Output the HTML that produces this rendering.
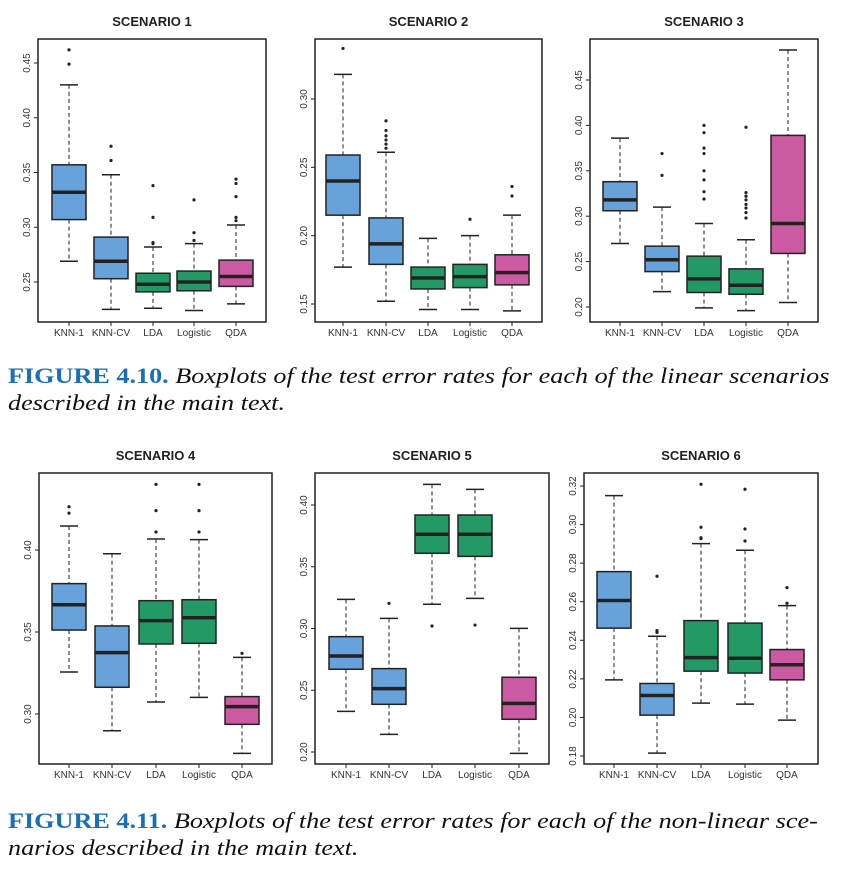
<!DOCTYPE html>
<html><head><meta charset="utf-8"><style>
body{margin:0;background:#fff;width:841px;height:889px;overflow:hidden;position:relative;font-family:"Liberation Sans",sans-serif}
.cap{position:absolute;left:8px;font-family:"Liberation Serif",serif;font-size:22px;font-style:italic;color:#111;line-height:27px;white-space:nowrap;transform:scaleX(1.19);transform-origin:0 0}
.cap b{font-style:normal;color:#1a6fb8;font-weight:bold}
</style></head><body>
<svg id="svg" width="841" height="889" style="position:absolute;left:0;top:0"></svg>
<div class="cap" style="top:362px"><b>FIGURE 4.10.</b> Boxplots of the test error rates for each of the linear scenarios<br>described in the main text.</div>
<div class="cap" style="top:807px"><b>FIGURE 4.11.</b> Boxplots of the test error rates for each of the non-linear sce-<br>narios described in the main text.</div>
<script>
const categories=["KNN-1","KNN-CV","LDA","Logistic","QDA"];
const colors=["#67a3da","#67a3da","#239966","#239966","#cc5aa3"];
// each: [lo, q1, med, q3, hi]
const s1Stats=[[.269,.307,.332,.357,.430],[.225,.253,.269,.291,.348],[.226,.241,.248,.258,.282],[.224,.242,.250,.260,.285],[.230,.246,.255,.270,.302]];
const s1Out=[[.449,.462],[.361,.374],[.285,.286,.309,.338],[.288,.295,.325],[.306,.309,.328,.340,.344]];
const s2Stats=[[.177,.215,.240,.259,.318],[.152,.179,.194,.213,.261],[.146,.161,.169,.177,.198],[.146,.162,.170,.179,.200],[.145,.164,.173,.186,.215]];
const s2Out=[[.337],[.264,.267,.270,.273,.277,.284],[],[.212],[.229,.236]];
const s3Stats=[[.270,.306,.318,.338,.386],[.217,.239,.252,.267,.310],[.199,.216,.231,.256,.292],[.196,.214,.224,.242,.274],[.205,.259,.292,.389,.483]];
const s3Out=[[],[.345,.369],[.319,.327,.340,.350,.369,.375,.392,.400],[.298,.304,.309,.313,.318,.322,.326,.398],[]];
const s4Stats=[[.3256,.3512,.3666,.3795,.4146],[.2898,.3163,.3374,.3537,.3977],[.3073,.3427,.3569,.3691,.4067],[.3101,.3431,.3587,.3697,.4063],[.2760,.2937,.3045,.3106,.3345]];
const s4Out=[[.4225,.4264],[],[.411,.424,.440],[.411,.424,.440],[.337]];
const s5Stats=[[.2329,.2670,.2777,.2934,.3236],[.2143,.2386,.2513,.2675,.3082],[.3196,.3609,.3763,.3919,.4167],[.3244,.3584,.3763,.3919,.4127],[.1989,.2265,.2394,.2605,.3001]];
const s5Out=[[],[.3204],[.3020],[.3028],[]];
const s6Stats=[[.2195,.2463,.2606,.2756,.3150],[.1815,.2012,.2114,.2176,.2421],[.2074,.2240,.2310,.2502,.2901],[.2069,.2230,.2307,.2489,.2867],[.1986,.2195,.2273,.2352,.2580]];
const s6Out=[[],[.2441,.2450,.2732],[.2927,.2932,.2986,.3209],[.2915,.2977,.3183],[.2592,.2673]];
const ticks1=[0.25,0.30,0.35,0.40,0.45], ticks2=[0.15,0.20,0.25,0.30], ticks3=[0.20,0.25,0.30,0.35,0.40,0.45];
const ticks4=[0.30,0.35,0.40], ticks5=[0.20,0.25,0.30,0.35,0.40], ticks6=[0.18,0.20,0.22,0.24,0.26,0.28,0.30,0.32];
const tickFmt=t=>t.toFixed(2);
const panels=[
 {title:"SCENARIO 1",L:38,R:266,T:39,B:322,v0:.45,p0:63,v1:.25,p1:282,xs:[69,111,153,194,236],st:s1Stats,out:s1Out,tk:ticks1},
 {title:"SCENARIO 2",L:315,R:542,T:39,B:322,v0:.30,p0:99,v1:.15,p1:304,xs:[343,386,428,470,512],st:s2Stats,out:s2Out,tk:ticks2},
 {title:"SCENARIO 3",L:590,R:818,T:39,B:322,v0:.45,p0:80,v1:.20,p1:307,xs:[620,662,704,746,788],st:s3Stats,out:s3Out,tk:ticks3},
 {title:"SCENARIO 4",L:39,R:272,T:473,B:764,v0:.40,p0:550,v1:.30,p1:714,xs:[69,112,156,199,242],st:s4Stats,out:s4Out,tk:ticks4},
 {title:"SCENARIO 5",L:315,R:549,T:473,B:764,v0:.40,p0:505,v1:.20,p1:752,xs:[346,389,432,475,519],st:s5Stats,out:s5Out,tk:ticks5},
 {title:"SCENARIO 6",L:584,R:818,T:473,B:764,v0:.32,p0:486,v1:.18,p1:756,xs:[614,657,701,745,787],st:s6Stats,out:s6Out,tk:ticks6}
];
const NS="http://www.w3.org/2000/svg", svg=document.getElementById('svg');
function mk(tag,attrs,parent,txt){const e=document.createElementNS(NS,tag);for(const k in attrs)e.setAttribute(k,attrs[k]);if(txt!==undefined)e.textContent=txt;parent.appendChild(e);return e;}
panels.forEach((p,pi)=>{
 const g=mk('g',{},svg);
 
 
 const y=v=>p.p0+(v-p.v0)*(p.p1-p.p0)/(p.v1-p.v0);
 const t=mk('text',{x:(p.L+p.R)/2,y:p.T-13,'text-anchor':'middle','font-size':13,'font-weight':'bold',fill:'#222'},g,p.title);
 
 
 p.tk.forEach(v=>{
  const yy=y(v);
  mk('line',{x1:p.L-4,x2:p.L,y1:yy,y2:yy,stroke:'#222','stroke-width':1},g);
  const tl=mk('text',{x:0,y:0,transform:`translate(${p.L-8},${yy}) rotate(-90)`,'text-anchor':'middle','font-size':10,fill:'#333'},g,tickFmt(v));
  
  
 });
 categories.forEach((c,i)=>{
  const x=p.xs[i], s=p.st[i], hw=17, cw=9;
  mk('line',{x1:x,x2:x,y1:y(s[4]),y2:y(s[3]),stroke:'#222','stroke-width':1,'stroke-dasharray':'4,3'},g);
  mk('line',{x1:x,x2:x,y1:y(s[1]),y2:y(s[0]),stroke:'#222','stroke-width':1,'stroke-dasharray':'4,3'},g);
  mk('line',{x1:x-cw,x2:x+cw,y1:y(s[4]),y2:y(s[4]),stroke:'#222','stroke-width':1.5},g);
  mk('line',{x1:x-cw,x2:x+cw,y1:y(s[0]),y2:y(s[0]),stroke:'#222','stroke-width':1.5},g);
  const b=mk('rect',{x:x-hw,y:y(s[3]),width:2*hw,height:y(s[1])-y(s[3]),fill:colors[i],stroke:'#222','stroke-width':1.5},g);
  
  
  mk('line',{x1:x-hw,x2:x+hw,y1:y(s[2]),y2:y(s[2]),stroke:'#222','stroke-width':3.5},g);
  p.out[i].forEach(v=>{const o=mk('circle',{cx:x,cy:y(v),r:1.6,fill:'#222'},g);
   
   });
  mk('line',{x1:x,x2:x,y1:p.B,y2:p.B+4,stroke:'#222','stroke-width':1},g);
  const xl=mk('text',{x:x,y:p.B+14,'text-anchor':'middle','font-size':10,fill:'#333'},g,c);
  
  
 });
 const f=mk('rect',{x:p.L,y:p.T,width:p.R-p.L,height:p.B-p.T,fill:'none',stroke:'#222','stroke-width':1.5},g);
 
 
});
</script>
</body></html>
